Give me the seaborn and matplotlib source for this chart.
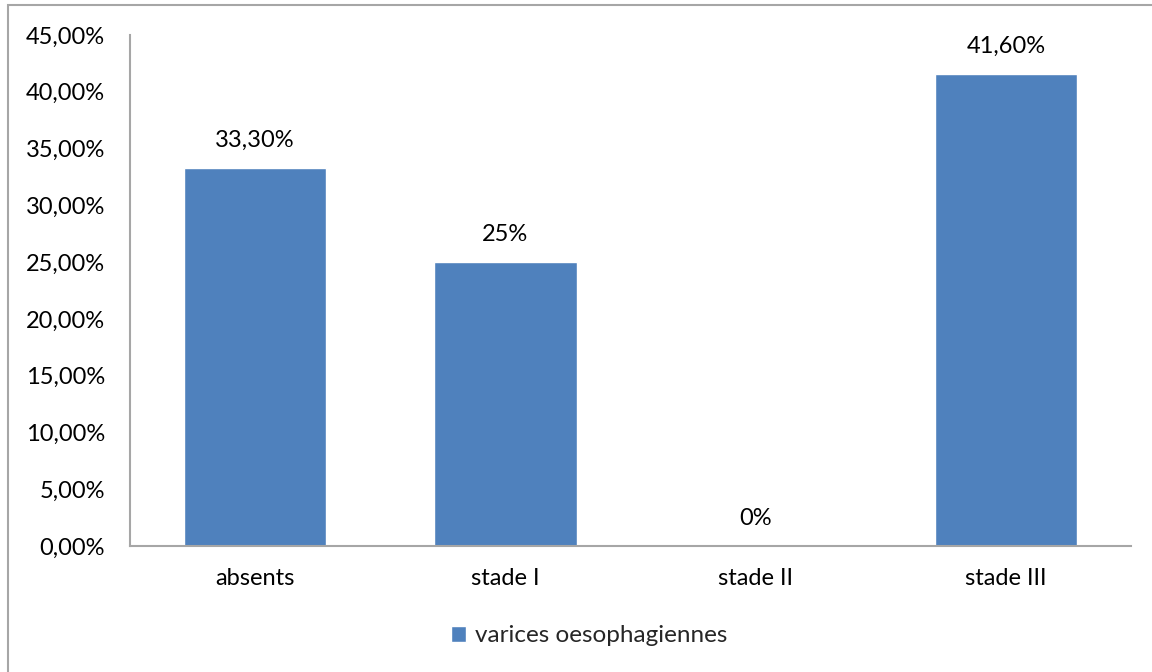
import matplotlib
matplotlib.use("Agg")
import matplotlib.pyplot as plt
import seaborn as sns
from matplotlib.patches import Rectangle
from matplotlib.ticker import FuncFormatter, MultipleLocator

categories = ["absents", "stade I", "stade II", "stade III"]
values = [33.3, 25.0, 0.0, 41.6]
value_labels = ["33,30%", "25%", "0%", "41,60%"]
series_name = "varices oesophagiennes"

sns.set_theme(style="white")
plt.rcParams["font.family"] = ["Lato", "DejaVu Sans"]

bar_color = "#4F81BD"
axis_gray = "#A6A6A6"
fs = 17

fig = plt.figure(figsize=(11.52, 6.72), dpi=100)
ax = fig.add_axes([130 / 1152, 1 - 546 / 672, 1001 / 1152, (546 - 35) / 672])

sns.barplot(x=categories, y=values, color=bar_color, width=0.57,
            saturation=1, label=series_name, ax=ax)
handles, labels = ax.get_legend_handles_labels()
if ax.get_legend() is not None:
    ax.get_legend().remove()

ax.set_ylim(0, 45)
ax.yaxis.set_major_locator(MultipleLocator(5))
ax.yaxis.set_major_formatter(FuncFormatter(lambda v, _: f"{v:.2f}%".replace(".", ",")))
ax.set_xlim(-0.5, len(categories) - 0.5)
ax.set_xlabel("")
ax.set_ylabel("")

for side in ("top", "right"):
    ax.spines[side].set_visible(False)
for side in ("left", "bottom"):
    ax.spines[side].set_color(axis_gray)
    ax.spines[side].set_linewidth(1.5)

ax.tick_params(axis="both", length=0, labelsize=fs, colors="black")
ax.tick_params(axis="y", pad=18)
ax.tick_params(axis="x", pad=16)

for i, (v, lab) in enumerate(zip(values, value_labels)):
    ax.annotate(lab, (i, v), xytext=(0, 12), textcoords="offset points",
                ha="center", va="bottom", fontsize=fs, color="black")

fig.legend(handles, labels, loc="center", bbox_to_anchor=(589 / 1152, 1 - 636 / 672),
           frameon=False, fontsize=17.5, handlelength=0.65, handleheight=0.65,
           handletextpad=0.35)

# outer chart frame
fig.patches.append(Rectangle((8 / 1152, -0.05), 1.2, 1 - 5 / 672 + 0.05,
                             transform=fig.transFigure, fill=False,
                             edgecolor=axis_gray, linewidth=1.5, zorder=10))

fig.savefig("out.png", dpi=100, facecolor="white")
